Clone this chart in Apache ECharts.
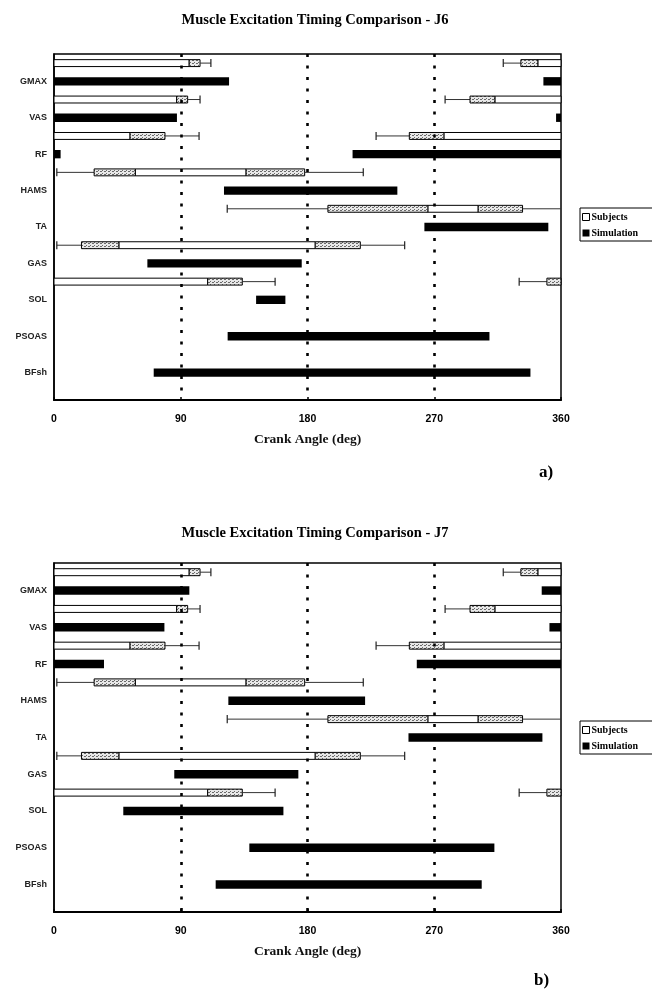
<!DOCTYPE html>
<html>
<head>
<meta charset="utf-8">
<script src="https://cdn.jsdelivr.net/npm/echarts@6/dist/echarts.min.js"></script>
<style>html,body{margin:0;padding:0;background:#fff}#c{width:652px;height:995px}</style>
</head>
<body>
<div id="c"></div>
<script>
// ---- data ----
const muscles = ['GMAX','VAS','RF','HAMS','TA','GAS','SOL','PSOAS','BFsh'];
const xTicks = [0, 90, 180, 270, 360];
const refAngles = [90, 180, 270];
// Subjects (same in both panels): onset whisker/box, offset box/whisker (deg)
const subjOnsetMin  = [319.0, 277.7, 228.7,   2.0, 123.0,   2.0, 330.3, null, null];
const subjOnsetLo   = [331.5, 295.4, 252.3,  28.5, 194.5,  19.5, 350.0, null, null];
const subjOnsetHi   = [343.7, 313.2, 277.0,  57.8, 265.6,  46.2, 360.0, null, null];
const subjOffsetLo  = [ 96.0,  87.1,  54.0, 136.4, 301.2, 185.5, 109.1, null, null];
const subjOffsetHi  = [103.7,  94.9,  78.8, 178.0, 332.7, 217.5, 133.7, null, null];
const subjOffsetMax = [111.4, 103.7, 103.0, 219.6, 372.0, 249.0, 157.0, null, null];
// Simulation J6
const simJ6On  = [347.5, 356.5, 212.0, 120.7, 263.0,  66.3, 143.5, 123.3,  70.8];
const simJ6Off = [124.3,  87.3,   4.7, 243.8, 351.0, 175.9, 164.3, 309.2, 338.3];
// Simulation J7
const simJ7On  = [346.3, 351.8, 257.6, 123.8, 251.7,  85.4,  49.2, 138.7, 114.8];
const simJ7Off = [ 96.1,  78.4,  35.5, 220.9, 346.8, 173.5, 162.9, 312.7, 303.7];

// ---- build ----
const rowLabels = [];
for (let i = 0; i < 19; i++) rowLabels.push(i % 2 === 1 && (i - 1) / 2 < muscles.length ? muscles[(i - 1) / 2] : 'r' + i);

function wrapSegs(a, b) {
  const out = [];
  if (b >= a) out.push([a, Math.min(b, 360)]);
  else { out.push([a, 360]); out.push([0, b]); }
  return out.filter(s => s[1] > s[0]);
}
function subjData() {
  const d = [];
  muscles.forEach((m, i) => {
    if (subjOnsetMin[i] == null) return;
    const row = 2 * i;
    const parts = [
      [subjOnsetMin[i], subjOnsetLo[i], 0],
      [subjOnsetLo[i], subjOnsetHi[i], 1],
      [subjOnsetHi[i], subjOffsetLo[i], 2],
      [subjOffsetLo[i], subjOffsetHi[i], 1],
      [subjOffsetHi[i], subjOffsetMax[i], 0]
    ];
    parts.forEach(p => wrapSegs(p[0], p[1]).forEach(s => d.push([row, s[0], s[1], p[2]])));
    [subjOnsetMin[i], subjOffsetMax[i]].forEach(v => { if (v >= 0 && v <= 360) d.push([row, v, v, 3]); });
  });
  return d;
}
function simData(on, off) {
  const d = [];
  muscles.forEach((m, i) => wrapSegs(on[i], off[i]).forEach(s => d.push([2 * i + 1, s[0], s[1], 4])));
  return d;
}

const pc = document.createElement('canvas');
pc.width = 4; pc.height = 3;
const g = pc.getContext('2d');
g.fillStyle = '#e8e8e8'; g.fillRect(0, 0, 4, 3);
g.fillStyle = '#6a6a6a'; g.fillRect(0, 0, 2, 1); g.fillRect(2, 2, 1, 1);
const hatch = { image: pc, repeat: 'repeat' };

function renderItem(params, api) {
  const row = api.value(0), a = api.value(1), b = api.value(2), kind = api.value(3);
  const p1 = api.coord([a, row]);
  const p2 = api.coord([b, row]);
  const band = api.size([0, 1])[1];
  if (kind === 0) {
    return { type: 'line', shape: { x1: p1[0], y1: p1[1], x2: p2[0], y2: p2[1] }, style: { stroke: '#333', lineWidth: 1 } };
  }
  if (kind === 3) {
    const h = band * 0.22;
    return { type: 'line', shape: { x1: p1[0], y1: p1[1] - h, x2: p1[0], y2: p1[1] + h }, style: { stroke: '#222', lineWidth: 1.2 } };
  }
  if (kind === 4) {
    const h = band * 0.46;
    return { type: 'rect', shape: { x: p1[0], y: p1[1] - h / 2, width: p2[0] - p1[0], height: h }, style: { fill: '#000' } };
  }
  const h = band * 0.38;
  return { type: 'rect', shape: { x: p1[0], y: p1[1] - h / 2, width: p2[0] - p1[0], height: h },
    style: { fill: kind === 1 ? hatch : '#fff', stroke: '#000', lineWidth: 1 } };
}

const serif = 'Liberation Serif, Times New Roman, serif';
const sans = 'Liberation Sans, Arial, sans-serif';

function xAxis(gi) {
  return {
    gridIndex: gi, type: 'value', min: 0, max: 360, interval: 90,
    axisLine: { show: true, lineStyle: { color: '#000', width: 2 } },
    axisTick: { show: true, inside: true, length: 3, lineStyle: { color: '#000', width: 1.5 } },
    axisLabel: { margin: 14, fontFamily: sans, fontWeight: 'bold', fontSize: 10.5, color: '#000',
      formatter: v => xTicks.indexOf(v) >= 0 ? String(v) : '' },
    splitLine: { show: false },
    name: 'Crank Angle (deg)', nameLocation: 'middle', nameGap: 33,
    nameTextStyle: { fontFamily: serif, fontWeight: 'bold', fontSize: 13.5, color: '#111' }
  };
}
function yAxis(gi) {
  return {
    gridIndex: gi, type: 'category', data: rowLabels, inverse: true,
    axisLine: { show: true, lineStyle: { color: '#000', width: 1.5 } },
    axisTick: { show: false },
    axisLabel: { margin: 7, interval: 0, fontFamily: sans, fontWeight: 'bold', fontSize: 9, color: '#222',
      formatter: v => muscles.indexOf(v) >= 0 ? v : '' },
    splitLine: { show: false }
  };
}
function mark() {
  return {
    silent: true, symbol: 'none', label: { show: false },
    lineStyle: { color: '#000', type: [3, 8.5], width: 2.6 },
    data: refAngles.map(v => ({ xAxis: v }))
  };
}
function legend(top) {
  return {
    left: 580, top: top, orient: 'vertical', itemWidth: 7, itemHeight: 7, itemGap: 6,
    borderColor: '#000', borderWidth: 1, padding: [4, 30, 3, 2], selectedMode: false,
    textStyle: { fontFamily: serif, fontWeight: 'bold', fontSize: 10, color: '#000', padding: [0, 0, 0, -3] },
    data: [
      { name: 'Subjects', icon: 'rect', itemStyle: { color: '#fff', borderColor: '#000', borderWidth: 1 } },
      { name: 'Simulation', icon: 'rect', itemStyle: { color: '#000' } }
    ]
  };
}

const option = {
  backgroundColor: '#fff',
  animation: false,
  title: [
    { text: 'Muscle Excitation Timing Comparison - J6', left: 310, top: 8, textAlign: 'center',
      textStyle: { fontFamily: serif, fontWeight: 'bold', fontSize: 14.5, color: '#000' } },
    { text: 'Muscle Excitation Timing Comparison - J7', left: 310, top: 521, textAlign: 'center',
      textStyle: { fontFamily: serif, fontWeight: 'bold', fontSize: 14.5, color: '#000' } },
    { text: 'a)', left: 534, top: 459, textStyle: { fontFamily: serif, fontWeight: 'bold', fontSize: 17, color: '#000' } },
    { text: 'b)', left: 529, top: 967, textStyle: { fontFamily: serif, fontWeight: 'bold', fontSize: 17, color: '#000' } }
  ],
  legend: [legend(208), legend(721)],
  grid: [
    { left: 54, top: 54, width: 507, height: 346, show: true, borderColor: '#000', borderWidth: 1.5, backgroundColor: 'transparent' },
    { left: 54, top: 563, width: 507, height: 349, show: true, borderColor: '#000', borderWidth: 1.5, backgroundColor: 'transparent' }
  ],
  xAxis: [xAxis(0), xAxis(1)],
  yAxis: [yAxis(0), yAxis(1)],
  series: [
    { name: 'Subjects', type: 'custom', xAxisIndex: 0, yAxisIndex: 0, renderItem, data: subjData(),
      itemStyle: { color: '#fff', borderColor: '#000' }, encode: { x: [1, 2], y: 0 }, markLine: mark() },
    { name: 'Simulation', type: 'custom', xAxisIndex: 0, yAxisIndex: 0, renderItem, data: simData(simJ6On, simJ6Off),
      itemStyle: { color: '#000' }, encode: { x: [1, 2], y: 0 } },
    { name: 'Subjects', type: 'custom', xAxisIndex: 1, yAxisIndex: 1, renderItem, data: subjData(),
      itemStyle: { color: '#fff', borderColor: '#000' }, encode: { x: [1, 2], y: 0 }, markLine: mark() },
    { name: 'Simulation', type: 'custom', xAxisIndex: 1, yAxisIndex: 1, renderItem, data: simData(simJ7On, simJ7Off),
      itemStyle: { color: '#000' }, encode: { x: [1, 2], y: 0 } }
  ]
};
const chart = echarts.init(document.getElementById('c'), null, { renderer: 'canvas' });
chart.setOption(option);
</script>
</body>
</html>
